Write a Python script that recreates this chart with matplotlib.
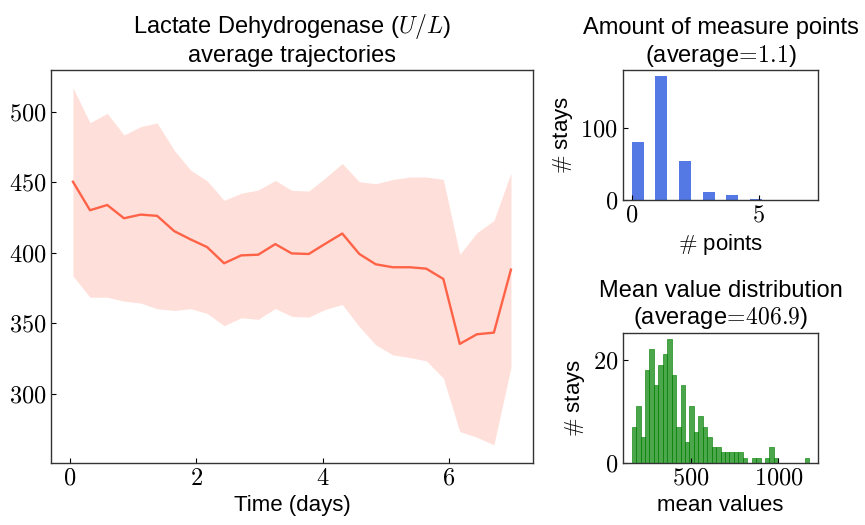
import matplotlib
matplotlib.use("Agg")
import matplotlib.pyplot as plt
from matplotlib.ticker import FuncFormatter

plt.rcParams["font.family"] = ["Liberation Sans", "DejaVu Sans"]
plt.rcParams["mathtext.fontset"] = "cm"

# ---- data ----
days = [0.047, 0.317, 0.59, 0.855, 1.12, 1.38, 1.65, 1.91, 2.17, 2.44, 2.71,
        2.98, 3.25, 3.51, 3.78, 4.04, 4.31, 4.58, 4.84, 5.11, 5.38, 5.64,
        5.91, 6.17, 6.44, 6.71, 6.98]
ldh_mean = [450.3, 430.1, 433.8, 424.4, 427.0, 426.1, 415.3, 409.4, 404.0,
            392.5, 398.1, 398.6, 406.1, 399.5, 399.1, 406.3, 413.6, 399.1,
            391.8, 389.7, 389.7, 388.7, 381.4, 335.4, 342.2, 343.4, 388.0]
ldh_upper = [516.8, 492.1, 498.7, 483.4, 489.3, 491.9, 472.6, 458.5, 451.0,
             437.1, 442.1, 444.4, 451.2, 444.2, 443.7, 452.9, 463.2, 450.3,
             448.9, 451.9, 453.6, 453.6, 451.9, 398.8, 414.1, 422.8, 456.4]
ldh_lower = [383.5, 368.5, 368.5, 365.7, 364.3, 360.3, 359.1, 360.3, 357.0,
             348.3, 353.9, 352.8, 360.5, 354.9, 354.4, 359.8, 363.3, 347.6,
             334.7, 327.6, 325.7, 323.4, 311.2, 273.3, 269.3, 263.9, 318.7]

n_points = [0, 1, 2, 3, 4, 5, 6, 7]
n_stays = [81, 172, 54, 11, 7, 1, 0, 0]
avg_points = 1.1

mean_lo, mean_hi = 160, 1177
mean_counts = [7, 11, 5, 18, 22, 15, 19, 21, 24, 17, 7, 15, 4, 11, 6, 9, 7, 5,
               3, 3, 2, 2, 2, 2, 2, 1, 0, 1, 1, 0, 1, 3, 1, 0, 0, 0, 0, 0, 0, 1]
avg_mean = 406.9

TITLE_FS = 17
LABEL_FS = 16
TICK_FS = 17.5

math_fmt = FuncFormatter(lambda v, p: f"${v:g}$")

fig = plt.figure(figsize=(8.65, 5.25), dpi=100)
ax = fig.add_axes([0.059, 0.1187, 0.557, 0.748])
ax_n = fig.add_axes([0.72, 0.619, 0.226, 0.2477])
ax_m = fig.add_axes([0.72, 0.1187, 0.226, 0.2476])

# main trajectory
ax.fill_between(days, ldh_lower, ldh_upper, color="tomato", alpha=0.2, lw=0)
ax.plot(days, ldh_mean, color="tomato", lw=1.7)
ax.set_title("Lactate Dehydrogenase ($U/L$)\naverage trajectories",
             fontsize=TITLE_FS)
ax.set_xlabel("Time (days)", fontsize=LABEL_FS)

# number of measure points
ax_n.hist(n_points, bins=15, range=(0, 7), weights=n_stays,
          color="royalblue", alpha=0.9)
ax_n.set_xticks([0, 5])
ax_n.set_yticks([0, 100])
ax_n.set_title(f"Amount of measure points\n(average$\\!=\\!{avg_points}$)",
               fontsize=TITLE_FS)
ax_n.set_xlabel(r"$\#$ points", fontsize=LABEL_FS)
ax_n.set_ylabel(r"$\#$ stays", fontsize=LABEL_FS)

# mean value distribution
step = (mean_hi - mean_lo) / len(mean_counts)
centers = [mean_lo + step * (i + 0.5) for i in range(len(mean_counts))]
ax_m.hist(centers, bins=len(mean_counts), range=(mean_lo, mean_hi),
          weights=mean_counts, color="green", alpha=0.7,
          edgecolor="green", linewidth=0.6)
ax_m.set_xticks([500, 1000])
ax_m.set_yticks([0, 20])
ax_m.set_title(f"Mean value distribution\n(average$\\!=\\!{avg_mean}$)",
               fontsize=TITLE_FS)
ax_m.set_xlabel("mean values", fontsize=LABEL_FS)
ax_m.set_ylabel(r"$\#$ stays", fontsize=LABEL_FS)

for a in (ax, ax_n, ax_m):
    a.tick_params(direction="in", labelsize=TICK_FS)
    a.xaxis.set_major_formatter(math_fmt)
    a.yaxis.set_major_formatter(math_fmt)
    for s in a.spines.values():
        s.set_color("#333333")
        s.set_linewidth(1.0)

fig.savefig("out.png", dpi=100)
